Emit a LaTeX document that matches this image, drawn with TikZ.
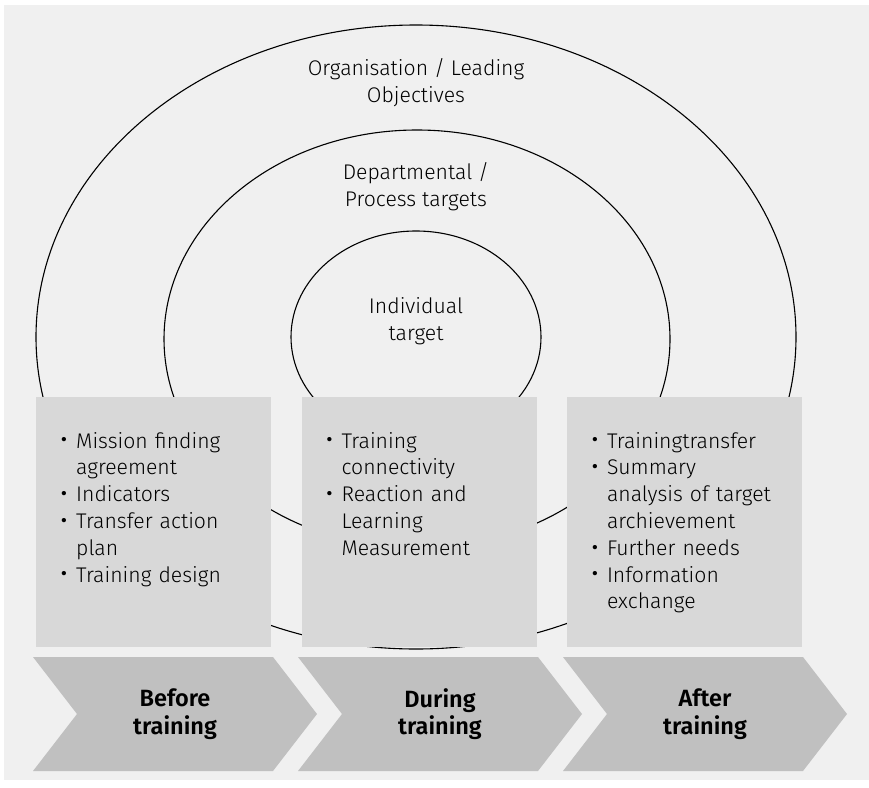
\documentclass[tikz,border=0pt]{standalone}
\usepackage{fontspec}
\setmainfont{Fira Sans Light}[BoldFont={Fira Sans SemiBold}]
\usepackage{enumitem}
\usepackage{graphicx}
\usetikzlibrary{positioning}

\definecolor{bggray}{HTML}{F0F0F0}
\definecolor{boxgray}{HTML}{D8D8D8}
\definecolor{arrowgray}{HTML}{C0C0C0}

\begin{document}
\begin{tikzpicture}[x=1pt, y=-1pt, font=\fontsize{21.2}{26.8}\selectfont,
    ring/.style={draw=black, line width=1.1pt},
    ringlabel/.style={align=center, inner sep=0pt},
    phase/.style={fill=boxgray, minimum width=235pt, minimum height=250pt, inner sep=0pt},
    items/.style={text width=212pt, align=left, inner sep=0pt, anchor=north west},
    chev/.style={fill=arrowgray},
    chevlabel/.style={align=center, inner sep=0pt, font=\fontsize{23.5}{27.5}\selectfont\bfseries}]

   \useasboundingbox (0,0) rectangle (869,787);
   \fill[bggray] (4,5) rectangle (869,780);

   % target rings
   \draw[ring] (416,337) ellipse [x radius=380pt, y radius=312pt];
   \draw[ring] (417,339) ellipse [x radius=253pt, y radius=209pt];
   \draw[ring] (416,337) ellipse [x radius=125pt, y radius=106pt];

   \node[ringlabel, name=org] at (416,83) {Organisation / Leading\\Objectives};
   \node[ringlabel, name=dept] at (416,187) {Departmental /\\Process targets};
   \node[ringlabel, name=indiv] at (416,321) {Individual\\target};

   % phase boxes
   \node[phase, anchor=north west, name=before] at (36,397) {};
   \node[phase, name=during, right=30pt of before] {};
   \node[phase, name=after, right=30pt of during] {};

   \setlist[itemize]{label=\raisebox{-1.8pt}{\scalebox{1.35}{\textbullet}}, leftmargin=17pt, labelsep=8pt, topsep=0pt, itemsep=0pt, parsep=0pt, partopsep=0pt}

   \node[items, name=beforelist] at ([xshift=23pt, yshift=-24pt]before.north west) {
      \begin{itemize}
         \item Mission finding\newline agreement
         \item Indicators
         \item Transfer action\newline plan
         \item Training design
      \end{itemize}};
   \node[items, name=duringlist] at ([xshift=23pt, yshift=-24pt]during.north west) {
      \begin{itemize}
         \item Training\newline connectivity
         \item Reaction and\newline Learning\newline Measurement
      \end{itemize}};
   \node[items, name=afterlist] at ([xshift=23pt, yshift=-24pt]after.north west) {
      \begin{itemize}
         \item Trainingtransfer
         \item Summary\newline analysis of target\newline archievement
         \item Further needs
         \item Information\newline exchange
      \end{itemize}};

   % phase arrows
   \foreach \x/\name/\txt in {33/beforearrow/Before, 298/duringarrow/During, 563/afterarrow/After} {
      \fill[chev] (\x,657) -- ++(240,0) -- ++(44,57) -- ++(-44,57) -- ++(-240,0) -- ++(44,-57) -- cycle;
      \node[chevlabel, name=\name] at (\x+142,714) {\txt\\training};
   }
\end{tikzpicture}
\end{document}
